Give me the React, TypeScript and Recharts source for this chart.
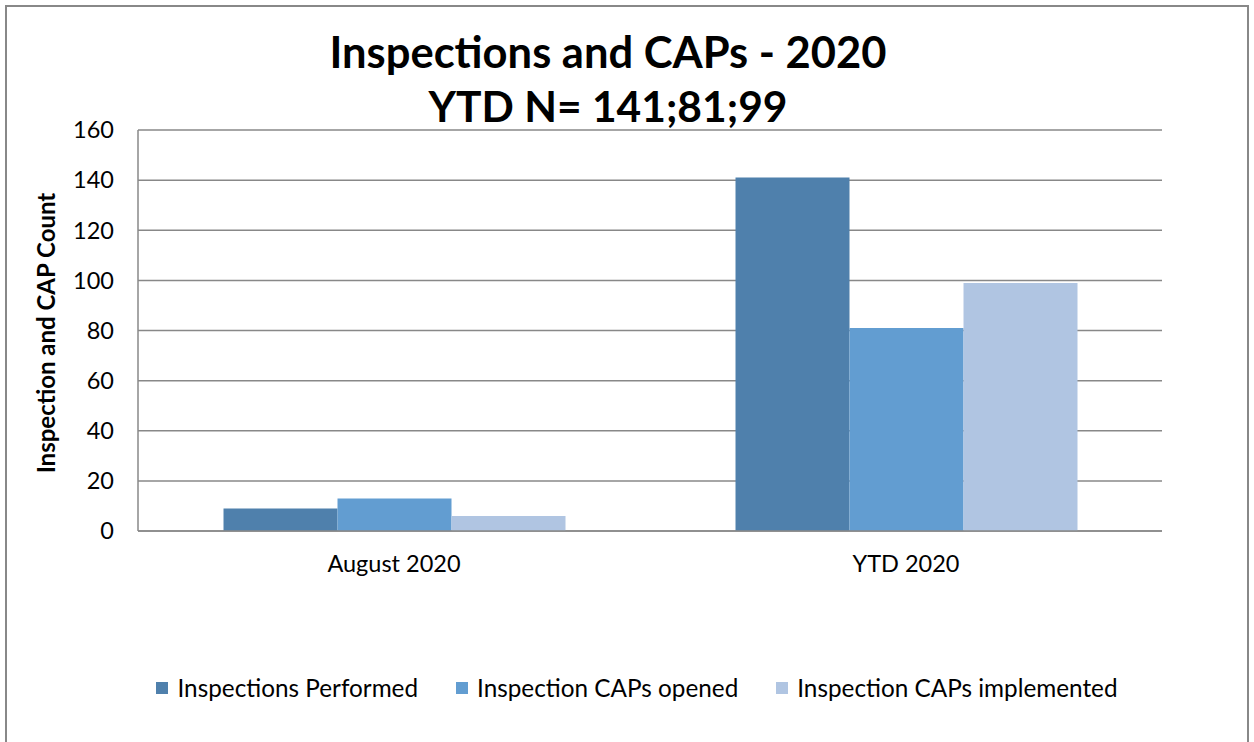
import React from 'react';
import { BarChart, Bar, XAxis, YAxis, CartesianGrid, Legend } from 'recharts';

const categories = ['August 2020', 'YTD 2020'];
const inspectionsPerformed = [9, 141];
const capsOpened = [13, 81];
const capsImplemented = [6, 99];
const yTicks = [0, 20, 40, 60, 80, 100, 120, 140, 160];
const seriesNames = ['Inspections Performed', 'Inspection CAPs opened', 'Inspection CAPs implemented'];
const seriesColors = ['#4F80AC', '#629DD1', '#B0C5E2'];
const titleLine1 = 'Inspections and CAPs - 2020';
const titleLine2 = 'YTD N= 141;81;99';
const yLabel = 'Inspection and CAP Count';

const data = categories.map((c, i) => ({
  name: c,
  performed: inspectionsPerformed[i],
  opened: capsOpened[i],
  implemented: capsImplemented[i],
}));

const FONT = 'Lato, "Open Sans", sans-serif';

const renderLegend = (props: any) => {
  const payload = [...(props.payload || [])].sort(
    (a: any, b: any) => seriesNames.indexOf(a.value) - seriesNames.indexOf(b.value)
  );
  return (
    <div style={{ display: 'flex', justifyContent: 'center', alignItems: 'center', fontFamily: FONT, fontSize: 24.3, color: '#000', lineHeight: '28px' }}>
      {payload.map((p: any, i: number) => (
        <div key={i} style={{ display: 'flex', alignItems: 'center', marginLeft: i === 0 ? 0 : 38 }}>
          <span style={{ display: 'inline-block', width: 12, height: 12, background: p.color, marginRight: 9 }} />
          <span>{p.value}</span>
        </div>
      ))}
    </div>
  );
};

export default function App() {
  return (
    <div style={{ position: 'absolute', left: 0, top: 0, width: 1254, height: 742, overflow: 'hidden', background: '#fff' }}>
      <div style={{ position: 'absolute', left: 5, top: 5, width: 1244, height: 800, border: '2px solid #888888', boxSizing: 'border-box' }} />
      <div style={{ position: 'absolute', left: 0, top: 0 }}>
        <BarChart
          width={1254}
          height={742}
          data={data}
          margin={{ top: 130, right: 92, bottom: 153, left: 0 }}
          barCategoryGap="16.7%"
          barGap={0}
        >
          <CartesianGrid vertical={false} stroke="#888888" strokeWidth={1.5} />
          <XAxis
            dataKey="name"
            height={30}
            axisLine={{ stroke: '#888888', strokeWidth: 1.5 }}
            tickLine={false}
            tickMargin={18}
            tick={{ fill: '#000', fontSize: 23.5, fontFamily: FONT }}
          />
          <YAxis
            width={138}
            domain={[0, 160]}
            ticks={yTicks}
            interval={0}
            axisLine={{ stroke: '#888888', strokeWidth: 1.5 }}
            tickLine={false}
            tickSize={0}
            tickMargin={24}
            tick={{ fill: '#000', fontSize: 23.5, fontFamily: FONT }}
          />
          <Legend
            verticalAlign="bottom"
            content={renderLegend}
            wrapperStyle={{ top: 674, left: 10, width: 1254 }}
          />
          <Bar dataKey="performed" name={seriesNames[0]} fill={seriesColors[0]} isAnimationActive={false} />
          <Bar dataKey="opened" name={seriesNames[1]} fill={seriesColors[1]} isAnimationActive={false} />
          <Bar dataKey="implemented" name={seriesNames[2]} fill={seriesColors[2]} isAnimationActive={false} />
        </BarChart>
      </div>
      <svg width={1254} height={742} style={{ position: 'absolute', left: 0, top: 0, pointerEvents: 'none' }}>
        <text x={608} y={68} textAnchor="middle" fontFamily={FONT} fontWeight="bold" fontSize={43.5} fill="#000">{titleLine1}</text>
        <text x={608} y={122} textAnchor="middle" fontFamily={FONT} fontWeight="bold" fontSize={42.5} fill="#000">{titleLine2}</text>
        <text x={55} y={333} textAnchor="middle" transform="rotate(-90 55 333)" fontFamily={FONT} fontWeight="bold" fontSize={24} fill="#000">{yLabel}</text>
      </svg>
    </div>
  );
}
